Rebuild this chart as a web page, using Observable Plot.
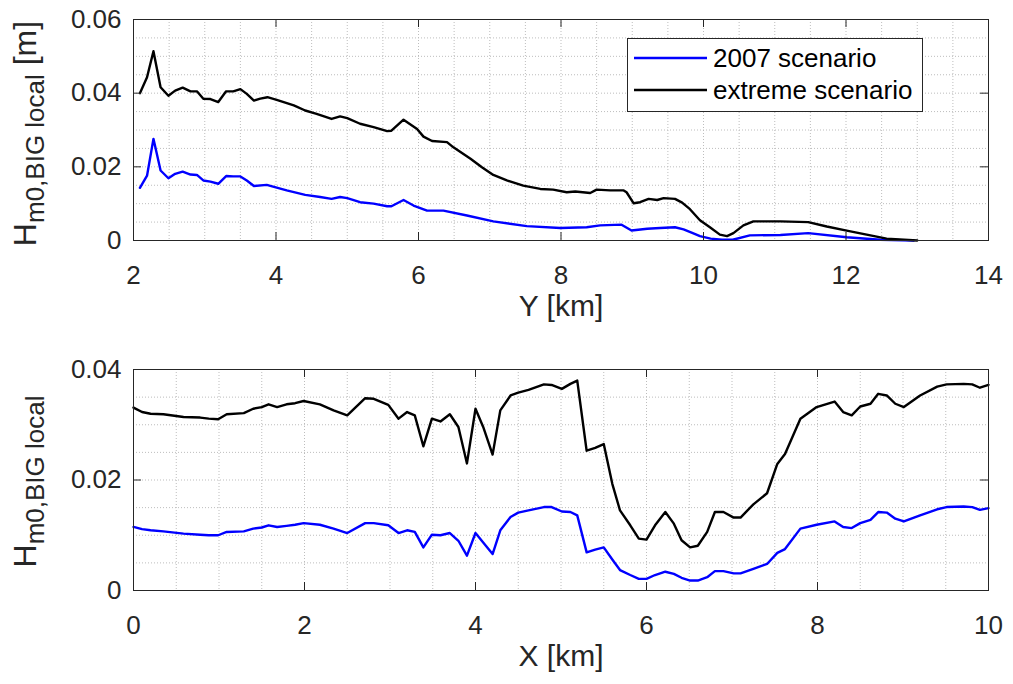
<!DOCTYPE html>
<html><head><meta charset="utf-8">
<script src="https://cdn.jsdelivr.net/npm/d3@7"></script>
<script src="https://cdn.jsdelivr.net/npm/@observablehq/plot@0.6"></script>
<style>body{margin:0;background:#fff;} svg{display:block;} #chart{width:1013px;}</style>
</head><body><div id="chart"></div>
<script>
// ---------- data: top panel (along Y) ----------
const topX2007 = [2.09,2.19,2.28,2.38,2.49,2.585,2.69,2.80,2.89,2.98,
  3.08,3.19,3.30,3.40,3.50,3.59,3.69,3.87,4.15,4.41,
  4.62,4.78,4.90,5.0,5.18,5.37,5.56,5.62,5.79,5.93,
  6.12,6.35,6.68,7.05,7.52,7.99,8.36,8.55,8.85,8.99,
  9.21,9.39,9.60,9.72,9.85,9.95,10.1,10.26,10.41,10.65,
  11.08,11.47,12.01,12.48,12.95];
const topH2007 = [0.0143,0.0176,0.0276,0.0190,0.0169,0.0181,0.0187,0.0179,0.0178,0.0163,
  0.0160,0.0154,0.0175,0.0174,0.0174,0.0163,0.0148,0.0151,0.0136,0.0124,
  0.0118,0.0113,0.0118,0.0115,0.0104,0.0100,0.0093,0.0093,0.0110,0.0095,
  0.0081,0.0081,0.0068,0.0052,0.0039,0.0034,0.0036,0.0041,0.0043,0.0027,
  0.0032,0.0034,0.0036,0.0030,0.0020,0.0012,0.0005,0.0002,0.0002,0.0014,
  0.0015,0.0020,0.0009,0.0002,0.0000];
const topXExt = [2.09,2.19,2.28,2.38,2.49,2.585,2.69,2.80,2.89,2.98,
  3.08,3.19,3.30,3.40,3.50,3.59,3.69,3.78,3.88,4.01,
  4.25,4.41,4.57,4.78,4.90,5.0,5.18,5.37,5.56,5.62,
  5.79,5.98,6.07,6.19,6.40,6.49,6.73,6.89,7.05,7.24,
  7.47,7.71,7.89,8.08,8.20,8.41,8.50,8.69,8.88,8.92,
  9.02,9.11,9.23,9.35,9.44,9.60,9.70,9.81,9.95,10.09,
  10.23,10.33,10.42,10.56,10.70,11.08,11.47,11.73,12.01,12.29,
  12.57,13.0];
const topHExt = [0.0400,0.0443,0.0514,0.0416,0.0393,0.0407,0.0415,0.0405,0.0405,0.0385,
  0.0384,0.0376,0.0405,0.0405,0.0411,0.0398,0.0380,0.0385,0.0389,0.0382,
  0.0367,0.0353,0.0344,0.0330,0.0337,0.0332,0.0317,0.0308,0.0297,0.0298,
  0.0328,0.0303,0.0282,0.0270,0.0267,0.0253,0.0222,0.0199,0.0178,0.0163,
  0.0149,0.0140,0.0138,0.0131,0.0133,0.0129,0.0138,0.0136,0.0136,0.0131,
  0.0101,0.0104,0.0113,0.0110,0.0115,0.0113,0.0103,0.0085,0.0055,0.0036,
  0.0016,0.0012,0.0020,0.0041,0.0052,0.0052,0.0050,0.0038,0.0027,0.0016,
  0.0005,0.0000];

// ---------- data: bottom panel (along X) ----------
const botX = [0,0.10,0.20,0.35,0.585,0.78,0.88,0.99,1.09,1.29,
  1.40,1.50,1.58,1.68,1.79,1.89,1.99,2.18,2.34,2.50,
  2.71,2.81,2.98,3.10,3.20,3.29,3.39,3.49,3.59,3.70,
  3.80,3.90,4.00,4.09,4.20,4.29,4.41,4.50,4.62,4.80,
  4.89,5.01,5.11,5.19,5.30,5.40,5.50,5.60,5.69,5.81,
  5.91,6.00,6.10,6.22,6.32,6.41,6.51,6.60,6.71,6.80,
  6.90,7.02,7.10,7.25,7.41,7.53,7.62,7.80,7.99,8.20,
  8.30,8.40,8.50,8.62,8.71,8.81,8.91,9.01,9.20,9.40,
  9.51,9.71,9.81,9.90,10.0];
const botH2007 = [0.0115,0.0111,0.0109,0.0107,0.0103,0.0101,0.0100,0.0100,0.0106,0.0107,
  0.0112,0.0114,0.0118,0.0115,0.0117,0.0119,0.0122,0.0119,0.0112,0.0104,
  0.0122,0.0122,0.0118,0.0104,0.0109,0.0106,0.0078,0.0101,0.0100,0.0104,
  0.0090,0.0063,0.0104,0.0087,0.0066,0.0109,0.0133,0.0141,0.0145,0.0151,
  0.0151,0.0143,0.0142,0.0136,0.0069,0.0074,0.0078,0.0056,0.0037,0.0028,
  0.0021,0.0021,0.0028,0.0034,0.0030,0.0023,0.0018,0.0018,0.0024,0.0035,
  0.0035,0.0031,0.0031,0.0039,0.0048,0.0068,0.0075,0.0112,0.0119,0.0125,
  0.0115,0.0113,0.0122,0.0128,0.0142,0.0141,0.0130,0.0125,0.0136,0.0147,
  0.0151,0.0152,0.0151,0.0146,0.0149];
const botHExt = [0.0331,0.0323,0.0320,0.0319,0.0314,0.0313,0.0311,0.0310,0.0319,0.0321,
  0.0329,0.0332,0.0337,0.0332,0.0337,0.0339,0.0343,0.0337,0.0326,0.0317,
  0.0348,0.0347,0.0336,0.0311,0.0323,0.0317,0.0261,0.0311,0.0306,0.0319,
  0.0296,0.0230,0.0329,0.0296,0.0246,0.0326,0.0353,0.0358,0.0363,0.0373,
  0.0372,0.0365,0.0374,0.0380,0.0253,0.0258,0.0265,0.0193,0.0145,0.0118,
  0.0094,0.0092,0.0118,0.0142,0.0121,0.0091,0.0078,0.0081,0.0106,0.0142,
  0.0142,0.0132,0.0132,0.0156,0.0176,0.0229,0.0247,0.0311,0.0332,0.0342,
  0.0323,0.0317,0.0333,0.0338,0.0356,0.0353,0.0338,0.0332,0.0353,0.0369,
  0.0373,0.0374,0.0373,0.0367,0.0372];

// ---------- ticks & labels ----------
const topXTicks = [2,4,6,8,10,12,14];
const topYTicks = [0,0.02,0.04,0.06];
const botXTicks = [0,2,4,6,8,10];
const botYTicks = [0,0.02,0.04];
const seriesNames = ["2007 scenario","extreme scenario"];
const seriesColors = ["#0000ff","#000000"];
const topXLabel = "Y [km]";
const botXLabel = "X [km]";

const FONT = "'Liberation Sans', Arial, Helvetica, sans-serif";
const INK = "#262626";
const W = 1013, ML = 133, MR = 25;

function zip(xs, ys) { return xs.map((x, i) => ({x, y: ys[i]})); }

function panel(o) {
  const plotH = o.height - o.marginTop - o.marginBottom;
  const plotW = W - ML - MR;
  const tl = 8;
  const xMinor = d3.range(o.xDomain[0], o.xDomain[1] + 1e-9, 0.5).slice(1, -1);
  const yMinor = d3.range(0, Math.round(o.yDomain[1] / 0.005)).map(i => +(i * 0.005).toFixed(4)).slice(1);
  const svg = Plot.plot({
    width: W, height: o.height, marginLeft: ML, marginRight: MR,
    marginTop: o.marginTop, marginBottom: o.marginBottom,
    style: {fontFamily: FONT, color: INK, background: "#fff", overflow: "visible"},
    x: {domain: o.xDomain, label: null}, y: {domain: o.yDomain, label: null},
    marks: [
      Plot.ruleX(xMinor, {x: d => d, stroke: "#bdbdbd", strokeDasharray: "1,2", strokeWidth: 1}),
      Plot.ruleY(yMinor, {y: d => d, stroke: "#bdbdbd", strokeDasharray: "1,2", strokeWidth: 1}),
      Plot.line(zip(o.x1, o.y1), {x: "x", y: "y", stroke: seriesColors[0], strokeWidth: 2.4}),
      Plot.line(zip(o.x2, o.y2), {x: "x", y: "y", stroke: seriesColors[1], strokeWidth: 2.4}),
      Plot.tickX(o.xTicks, {x: d => d, insetTop: plotH - tl, stroke: INK}),
      Plot.tickX(o.xTicks, {x: d => d, insetBottom: plotH - tl, stroke: INK}),
      Plot.tickY(o.yTicks, {y: d => d, insetRight: plotW - tl, stroke: INK}),
      Plot.tickY(o.yTicks, {y: d => d, insetLeft: plotW - tl, stroke: INK}),
      Plot.frame({stroke: INK, strokeWidth: 1}),
      Plot.axisX(o.xTicks, {tickSize: 0, tickPadding: 25, fontSize: 26, label: null, tickFormat: d => String(d), fill: INK}),
      Plot.axisY(o.yTicks, {tickSize: 0, tickPadding: 12, fontSize: 26, label: null, tickFormat: d => String(d), fill: INK}),
      Plot.text([o.xLabel], {frameAnchor: "bottom", dy: 75, fontSize: 30, fill: INK, text: d => d})
    ]
  });
  // y-axis label with subscript
  const cy = o.marginTop + plotH / 2 + (o.unit ? 4 : 2);
  const t = d3.select(svg).append("text")
    .attr("transform", `translate(36,${cy}) rotate(-90)`)
    .attr("text-anchor", "middle").attr("font-family", FONT)
    .attr("fill", INK).attr("font-size", 32).style("white-space", "pre");
  t.append("tspan").text("H");
  t.append("tspan").attr("font-size", 26).attr("dy", 8).text("m0,BIG local");
  if (o.unit) t.append("tspan").attr("dy", -8).text(" [m]");
  return svg;
}

const topSvg = panel({
  height: 342, marginTop: 19, marginBottom: 102,
  xDomain: [2, 14], yDomain: [0, 0.06], xTicks: topXTicks, yTicks: topYTicks,
  x1: topX2007, y1: topH2007, x2: topXExt, y2: topHExt, xLabel: topXLabel, unit: true
});
// legend
const lg = d3.select(topSvg).append("g").attr("font-family", FONT).attr("text-anchor", "start");
lg.append("rect").attr("x", 627.5).attr("y", 38.5).attr("width", 295).attr("height", 73)
  .attr("fill", "#fff").attr("stroke", INK).attr("stroke-width", 1);
seriesNames.forEach((name, i) => {
  const yy = 58 + i * 32;
  lg.append("line").attr("x1", 634).attr("x2", 707).attr("y1", yy).attr("y2", yy)
    .attr("stroke", seriesColors[i]).attr("stroke-width", 2.4);
  lg.append("text").attr("x", 713).attr("y", yy).attr("dy", "0.35em")
    .attr("text-anchor", "start")
    .attr("font-size", 26).attr("fill", "#000").text(name);
});

const botSvg = panel({
  height: 342, marginTop: 27, marginBottom: 94,
  xDomain: [0, 10], yDomain: [0, 0.04], xTicks: botXTicks, yTicks: botYTicks,
  x1: botX, y1: botH2007, x2: botX, y2: botHExt, xLabel: botXLabel, unit: false
});

document.getElementById("chart").append(topSvg, botSvg);
</script>
</body></html>
